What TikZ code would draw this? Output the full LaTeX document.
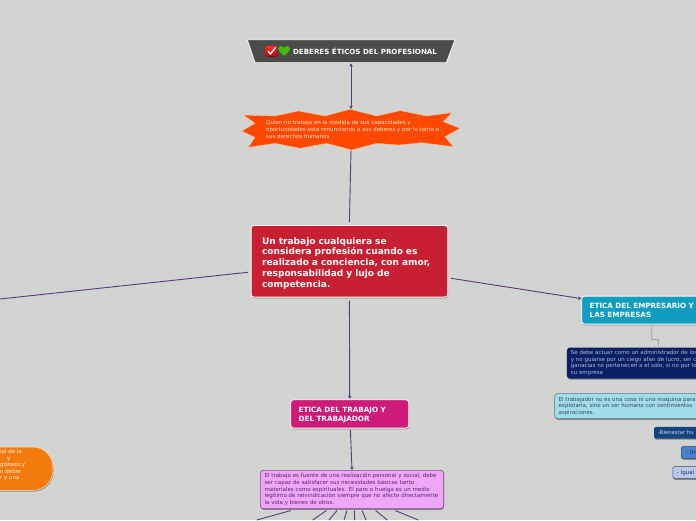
\documentclass[tikz,border=0pt]{standalone}
\usepackage{fontspec}
\setmainfont{DejaVu Sans}
\usetikzlibrary{arrows.meta,shadows}
\definecolor{bg}{HTML}{D2D4D1}
\definecolor{link}{HTML}{5A3A80}
\definecolor{linklight}{HTML}{A99DB8}
\definecolor{heartgreen}{RGB}{60,190,10}
\tikzset{
  x=1pt,y=-1pt,
  linkline/.style={draw=link,line width=0.9pt},
  tip/.style={-{Stealth[length=3.2pt,width=3.6pt]}},
  softshadow/.style={drop shadow={shadow xshift=0.5pt,shadow yshift=-1.2pt,opacity=0.35,fill=black}},
  boxbase/.style={rectangle,rounded corners=3pt,anchor=north west,inner ysep=0pt,align=left,softshadow},
  headbox/.style={boxbase,draw=white,line width=0.8pt,text=white,font=\bfseries},
  smalltext/.style={font=\fontsize{5.5}{6.6}\selectfont},
}
\begin{document}
\begin{tikzpicture}
\useasboundingbox (0,0) rectangle (696,520);
\clip (0,0) rectangle (696,520);
\fill[bg] (0,0) rectangle (696,520);

% title
\path[fill={rgb,255:red,75;green,75;blue,73},draw=white!85!bg,line width=0.8pt]
  (247.3,39.7) -- (455,39.7) -- (446.3,62.7) -- (255,62.7) -- cycle;
\node[inner sep=0pt,minimum width=191pt,minimum height=23pt,text=white,
      font=\bfseries\fontsize{7.1}{8}\selectfont] (title) at (351,51.2)
      {\hspace*{28pt}DEBERES ÉTICOS DEL PROFESIONAL};
\fill[rounded corners=1.5pt,top color=red!80!white,bottom color=red!70!black] (265.7,45.7) rectangle (277.3,56.7);
\draw[white,line width=1.3pt] (268,51) -- (270.5,54) -- (275.5,47.5);
\fill[heartgreen] (284.2,55.7) .. controls (280,52.5) and (278.3,50.5) .. (278.3,48.8)
   .. controls (278.3,46) and (282.8,45) .. (284.2,48)
   .. controls (285.6,45) and (290,46) .. (290,48.8)
   .. controls (290,50.5) and (288.4,52.5) .. (284.2,55.7) -- cycle;

% star
\path[fill={rgb,255:red,255;green,72;blue,0},draw=white!60!orange,line width=0.3pt]
  (243.3,115) -- (275,116) -- (298.3,111) -- (325,116) -- (350,109.3) -- (376.7,116) -- (400,110.7)
  -- (426.7,116) -- (451.7,112.7) -- (443.3,121.7) -- (460,128.3) -- (445,136.7) -- (453.3,146.7)
  -- (421.7,142.7) -- (398.3,145) -- (376.7,143.3) -- (351.7,150) -- (326.7,143.3) -- (300,148.3)
  -- (275,143.3) -- (248.3,147.3) -- (255,137.3) -- (241.7,131) -- (255,123.3) -- cycle;
\node[inner sep=0pt,minimum width=218pt,minimum height=41pt] (star) at (351,129.6) {};
\node[anchor=west,inner sep=0pt,align=left,text=white!80!orange,smalltext] (startext) at (266,129.5)
  {Quien no trabaja en la medida de sus capacidades y\\oportunidades esta renunciando a sus deberes y por lo tanto a\\sus derechos humanos};

% central
\node[headbox,fill={rgb,255:red,200;green,32;blue,50},minimum width=196.6pt,minimum height=71.7pt,
      text width=174.6pt,inner xsep=11pt,font=\bfseries\fontsize{9.03}{10.9}\selectfont] (central) at (250.7,225)
  {\rule{0pt}{11pt}Un trabajo cualquiera se\\considera profesión cuando es\\realizado a conciencia, con amor,\\responsabilidad y lujo de\\competencia.};

% trabajo
\node[headbox,fill={rgb,255:red,207;green,26;blue,120},minimum width=118pt,minimum height=28.4pt,
      text width=102pt,inner xsep=8pt,font=\bfseries\fontsize{7.2}{9}\selectfont] (trab) at (290.3,399.3)
  {\rule{0pt}{8pt}ETICA DEL TRABAJO Y\\DEL TRABAJADOR};

% trabajador
\node[boxbase,fill={rgb,255:red,240;green,166;blue,250},draw={rgb,255:red,135;green,75;blue,150},line width=0.7pt,
      minimum width=183.3pt,minimum height=38.3pt,text width=174.9pt,inner xsep=4.2pt,
      text={rgb,255:red,85;green,40;blue,105},smalltext] (trabtext) at (260,470)
  {El trabajo es fuente de una realización personal y social, debe\\ser capaz de satisfacer sus necesidades básicas tanto\\materiales como espirituales. El paro o huelga es un medio\\legítimo de reivindicación siempre que no afecte directamente\\la vida y bienes de otros.};

% empresario
\node[headbox,fill={rgb,255:red,17;green,157;blue,192},minimum width=130pt,minimum height=28pt,
      text width=114pt,inner xsep=8pt,font=\bfseries\fontsize{7.2}{9}\selectfont] (empresario) at (581.3,295.7)
  {ETICA DEL EMPRESARIO Y\\LAS EMPRESAS};

% navy
\node[boxbase,fill={rgb,255:red,10;green,32;blue,100},minimum width=140pt,minimum height=31pt,
      text width=132pt,inner xsep=4pt,text={rgb,255:red,175;green,187;blue,222},smalltext] (navy) at (566.7,347.3)
  {Se debe actuar como un administrador de los\\y no guiarse por un ciego afan de lucro, ser c\\ganacias no pertenecen a el solo, si no por lo\\su empresa};

% light blue
\node[boxbase,fill={rgb,255:red,160;green,221;blue,232},draw={rgb,255:red,90;green,120;blue,135},line width=0.6pt,
      minimum width=150pt,minimum height=25pt,text width=142pt,inner xsep=4pt,
      text={rgb,255:red,55;green,75;blue,85},font=\fontsize{5.45}{6.6}\selectfont] (light) at (554.3,393.3)
  {El trabajador no es una cosa ni una maquina para\\explotarla, sino un ser humano con sentimientos\\aspiraciones.};

% small boxes
\node[boxbase,rounded corners=1.5pt,fill={rgb,255:red,20;green,67;blue,127},minimum width=60pt,minimum height=11.6pt,
      text width=52pt,inner xsep=4pt,text={rgb,255:red,200;green,215;blue,235},font=\fontsize{5.3}{6.6}\selectfont] (bien) at (654,426.7) {-Bienestar hu};
\node[boxbase,rounded corners=1.5pt,fill={rgb,255:red,74;green,130;blue,208},draw={rgb,255:red,40;green,70;blue,110},line width=0.5pt,
      minimum width=40pt,minimum height=12pt,text width=31pt,inner xsep=4.5pt,
      text={rgb,255:red,25;green,45;blue,85},smalltext] (un) at (681,446.3) {- Un};
\node[boxbase,rounded corners=1.5pt,fill={rgb,255:red,184;green,200;blue,238},draw={rgb,255:red,60;green,75;blue,105},line width=0.5pt,
      minimum width=40pt,minimum height=12pt,text width=32pt,inner xsep=4pt,
      text={rgb,255:red,40;green,50;blue,75},smalltext] (igual) at (672.7,466.3) {- Igual};

% orange
\node[rectangle,rounded corners=20pt,anchor=north east,fill={rgb,255:red,243;green,123;blue,14},draw=white!75!orange,line width=0.6pt,
      minimum width=90pt,minimum height=43.3pt,inner sep=0pt,softshadow] (orange) at (53.3,446.7) {};
\node[anchor=west,inner sep=0pt,align=left,text=white!88!orange,smalltext] (orangetext) at (0,465.2)
  {ial de la\\\hspace*{7pt}y\\gozado y\\n deber\\r y una};

% free ends
\coordinate (leftend) at (0,299);
\coordinate (f1) at (256.7,520);
\coordinate (f2) at (312.7,520);
\coordinate (f3) at (329,520);
\coordinate (f4) at (344,520);
\coordinate (f5) at (354.7,520);
\coordinate (f6) at (366,520);
\coordinate (f7) at (387.3,520);
\coordinate (f8) at (418.3,520);

% connectors
\draw[linkline,{Stealth[length=3.2pt,width=3.6pt]}-{Stealth[length=3.2pt,width=3.6pt]}] ([yshift=-0.5pt]title.south) -- (star.north);
\draw[linkline] (star.south) -- ([yshift=3pt]central.north);
\draw[linkline] ([shift={(-2.7pt,-11pt)}]central.west) -- (leftend);
\draw[linkline,tip] ([shift={(2.7pt,-17pt)}]central.east) -- ([yshift=11.5pt]empresario.west);
\draw[linkline,tip] ([yshift=-3pt]central.south) -- ([yshift=0.5pt]trab.north);
\draw[linkline,tip] ([shift={(0.7pt,-1.6pt)}]trab.south) -- (trabtext.north);
\draw[linklight,line width=0.8pt] ([xshift=5pt]empresario.south) -- ++(0pt,-15pt) -- ++(6.7pt,0pt) -- ([xshift=21.3pt]navy.north);
\foreach \dx/\f in {-61/f1,-25.6/f2,-15/f3,-5/f4,2.3/f5,10/f6,23.6/f7,43.3/f8}{
  \draw[linkline] ([shift={(\dx pt,-1.5pt)}]trabtext.south) -- (\f);
}
\end{tikzpicture}
\end{document}
